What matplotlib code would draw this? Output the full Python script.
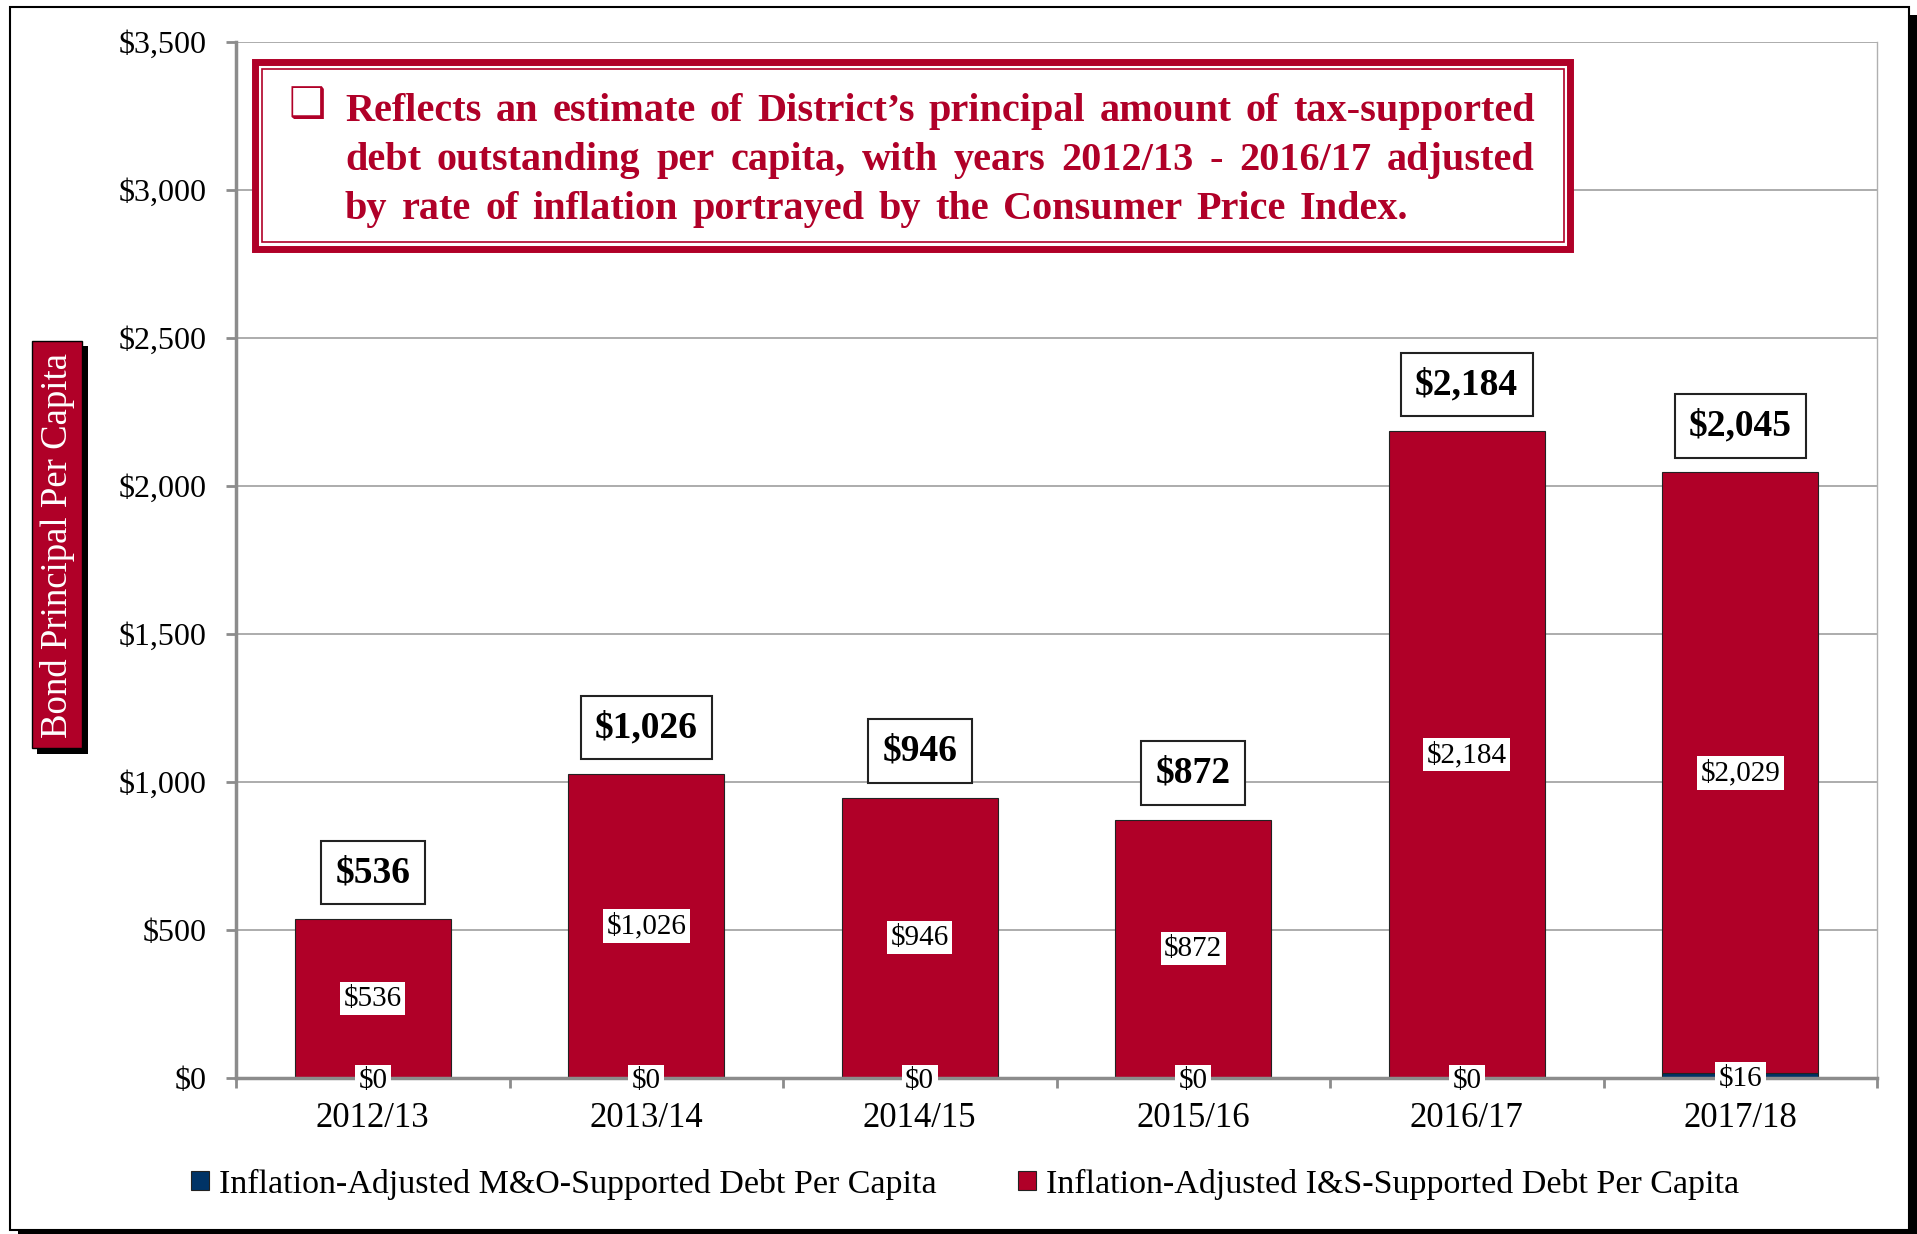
import numpy as np
import matplotlib.pyplot as plt
from matplotlib.patches import Rectangle
from matplotlib.ticker import FuncFormatter

# Data
years = ["2012/13", "2013/14", "2014/15", "2015/16", "2016/17", "2017/18"]
mo_debt = [0, 0, 0, 0, 0, 16]
is_debt = [536, 1026, 946, 872, 2184, 2029]
series_names = [
    "Inflation-Adjusted M&O-Supported Debt Per Capita",
    "Inflation-Adjusted I&S-Supported Debt Per Capita",
]
note_lines = [
    "Reflects an estimate of District\u2019s principal amount of tax-supported",
    "debt outstanding per capita, with years 2012/13 - 2016/17 adjusted",
    "by rate of inflation portrayed by the Consumer Price Index.",
]
y_title = "Bond Principal Per Capita"

RED = "#B00028"
NAVY = "#003366"
GRAY = "#8C8C8C"
W, H = 1917, 1234

plt.rcParams["font.family"] = ["Liberation Serif", "DejaVu Serif", "DejaVu Sans"]

fig = plt.figure(figsize=(W / 100, H / 100), dpi=100)


def fx(px):
    return px / W


def fy(py):
    return 1 - py / H


def rect(x0, y0, x1, y1, **kw):
    # pixel coords, origin top-left
    r = Rectangle((fx(x0), fy(y1)), fx(x1) - fx(x0), fy(y0) - fy(y1),
                  transform=fig.transFigure, **kw)
    fig.add_artist(r)
    return r


# outer frame with shadow
rect(18, 15, 1930, 1250, fc="black", ec="none", zorder=-10)
rect(10, 7, 1909, 1230, fc="white", ec="black", lw=1.5, zorder=-9)

ax = fig.add_axes([fx(236), fy(1078), fx(1877) - fx(236), fy(41.6) - fy(1078)])
ax.set_facecolor("white")

x = np.arange(len(years))
bw = 0.57
ax.bar(x, mo_debt, bw, color=NAVY, edgecolor="#222222", lw=0.8, zorder=3,
       label=series_names[0])
ax.bar(x, is_debt, bw, bottom=mo_debt, color=RED, edgecolor="#222222", lw=0.8,
       zorder=3, label=series_names[1])

ax.set_xlim(-0.5, 5.5)
ax.set_ylim(0, 3500)
ax.set_yticks(range(0, 3501, 500))
ax.yaxis.set_major_formatter(FuncFormatter(lambda v, p: f"${v:,.0f}"))
ax.set_xticks(x, years)
ax.set_xticks(np.arange(-0.5, 6, 1), minor=True)
ax.tick_params(axis="x", which="major", length=0, pad=17, labelsize=25)
ax.tick_params(axis="x", which="minor", length=7, width=2, color=GRAY)
ax.tick_params(axis="y", length=7, width=2, color=GRAY, pad=14, labelsize=23)
ax.grid(axis="y", color="#A6A6A6", lw=1.3)
ax.set_axisbelow(True)
ax.spines["top"].set_visible(False)
ax.spines["left"].set_color(GRAY)
ax.spines["left"].set_linewidth(2.5)
ax.spines["bottom"].set_color(GRAY)
ax.spines["bottom"].set_linewidth(2.5)
ax.spines["bottom"].set_zorder(4)
ax.spines["right"].set_color("#B0B0B0")
ax.spines["right"].set_linewidth(1)

# value labels
for xi, m, s in zip(x, mo_debt, is_debt):
    ax.text(xi, m / 2, f"${m:,}", ha="center", va="center_baseline", fontsize=21,
            zorder=6, bbox=dict(fc="white", ec="none", boxstyle="square,pad=0.12"))
    ax.text(xi, m + s / 2, f"${s:,}", ha="center", va="center", fontsize=21,
            zorder=6, bbox=dict(fc="white", ec="none", boxstyle="square,pad=0.12"))
    ax.annotate(f"${m + s:,}", (xi, m + s), xytext=(0, 21), textcoords="offset points",
                ha="center", va="bottom", fontsize=27, fontweight="bold", zorder=6,
                bbox=dict(fc="white", ec="#222222", lw=1.5, boxstyle="square,pad=0.38"))

# note box (double border)
rect(255, 62, 1569.5, 248.5, fc="white", ec=RED, lw=5, zorder=5)
rect(261.5, 69, 1563.5, 242, fc="none", ec=RED, lw=1.2, zorder=6)
fig.text(fx(289), fy(105), "\u2751", color=RED, fontsize=30, fontweight="bold",
         ha="left", va="center", family=["DejaVu Sans"], zorder=7)

renderer = fig.canvas.get_renderer()
x_left, x_right = 345, 1535
baselines = [121, 170, 219]
gaps = []
for i, (line, yb) in enumerate(zip(note_lines, baselines)):
    words = line.split(" ")
    objs = [fig.text(fx(x_left), fy(yb), w, color=RED, fontsize=29, fontweight="bold",
                     va="baseline", ha="left", zorder=7) for w in words]
    widths = [o.get_window_extent(renderer).width for o in objs]
    if i < len(note_lines) - 1:
        gap = (x_right - x_left - sum(widths)) / (len(words) - 1)
        gaps.append(gap)
    else:
        gap = min(gaps)
    xp = x_left
    for o, wd in zip(objs, widths):
        o.set_x(fx(xp))
        xp += wd + gap

# y title box with shadow
rect(37, 346, 88, 754, fc="black", ec="none", zorder=2)
rect(32, 341, 82, 748, fc=RED, ec="black", lw=1, zorder=3)
fig.text(fx(57.5), fy(545), y_title, color="white", fontsize=26.5, rotation=90,
         ha="center", va="center", zorder=4)

# legend
handles, labels = ax.get_legend_handles_labels()
fig.legend(handles, labels, loc="center", bbox_to_anchor=(fx(965), fy(1184)), ncol=2,
           frameon=False, fontsize=24.5, handlelength=0.52, handleheight=0.52,
           handletextpad=0.3, columnspacing=2.4)

fig.savefig("out.png", dpi=100)
